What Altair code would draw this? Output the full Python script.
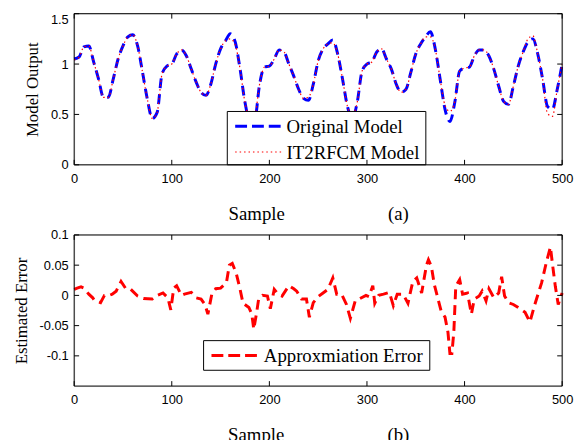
import altair as alt
import pandas as pd

# ---------------- data ----------------
samples = list(range(0, 501, 5))
original = [1.05, 1.07, 1.17, 1.18, 1.02, 0.85, 0.67, 0.67, 0.85, 1.05,
            1.18, 1.27, 1.29, 1.18, 0.92, 0.65, 0.46, 0.52, 0.90, 0.98,
            1.00, 1.10, 1.14, 1.08, 0.95, 0.82, 0.72, 0.69, 0.80, 1.00,
            1.15, 1.23, 1.30, 1.22, 0.95, 0.62, 0.44, 0.45, 0.80, 0.97,
            0.98, 1.05, 1.14, 1.12, 1.00, 0.88, 0.75, 0.66, 0.64, 0.80,
            1.03, 1.15, 1.20, 1.24, 1.10, 0.85, 0.58, 0.46, 0.62, 0.93,
            1.00, 1.02, 1.12, 1.15, 1.05, 0.95, 0.80, 0.72, 0.75, 0.92,
            1.10, 1.20, 1.27, 1.32, 1.15, 0.85, 0.55, 0.43, 0.62, 0.93,
            0.96, 0.97, 1.08, 1.14, 1.14, 1.08, 0.95, 0.78, 0.63, 0.60,
            0.78, 0.98, 1.12, 1.22, 1.25, 1.10, 0.85, 0.58, 0.55, 0.75,
            1.00]
it2rfcm = [1.04, 1.07, 1.17, 1.18, 1.02, 0.85, 0.67, 0.67, 0.85, 1.05,
           1.18, 1.27, 1.29, 1.18, 0.92, 0.65, 0.46, 0.52, 0.90, 0.98,
           1.00, 1.10, 1.14, 1.08, 0.95, 0.82, 0.72, 0.69, 0.80, 1.00,
           1.15, 1.23, 1.25, 1.19, 0.95, 0.62, 0.47, 0.49, 0.80, 0.97,
           0.98, 1.05, 1.14, 1.12, 1.00, 0.88, 0.75, 0.66, 0.67, 0.80,
           1.03, 1.15, 1.20, 1.21, 1.10, 0.85, 0.58, 0.49, 0.62, 0.93,
           1.00, 1.02, 1.12, 1.15, 1.05, 0.95, 0.80, 0.72, 0.75, 0.92,
           1.10, 1.20, 1.27, 1.27, 1.15, 0.85, 0.59, 0.53, 0.63, 0.93,
           0.96, 0.97, 1.08, 1.14, 1.14, 1.08, 0.95, 0.78, 0.63, 0.60,
           0.78, 0.98, 1.12, 1.25, 1.28, 1.10, 0.85, 0.51, 0.48, 0.75,
           1.00]

err_sample = [0, 3, 7, 10, 15, 19, 21, 27, 31, 36, 39, 43, 48, 53, 58, 65, 71, 80,
              85, 91, 96, 99, 102, 105, 110, 113, 120, 125, 130, 134, 137, 141, 145,
              150, 156, 159, 162, 166, 170, 173, 179, 182, 184, 187, 189, 193, 198,
              201, 205, 209, 213, 220, 225, 228, 233, 238, 241, 245, 250, 255, 260,
              265, 269, 274, 279, 283, 288, 292, 299, 302, 306, 308, 312, 317, 323,
              327, 331, 337, 342, 347, 351, 356, 361, 363, 366, 369, 376, 380, 383,
              385, 387, 389, 391, 395, 398, 403, 407, 410, 415, 418, 422, 425, 430,
              435, 438, 441, 445, 450, 455, 462, 467, 472, 479, 484, 488, 490, 493,
              496, 500]
err_value = [0.010, 0.012, 0.014, 0.012, 0.002, -0.004, -0.009, -0.012, 0.000, 0.000,
             0.002, 0.007, 0.023, 0.011, 0.010, -0.001, -0.005, -0.006,
             0.000, 0.004, -0.004, -0.024, 0.012, 0.016, 0.000, 0.002, 0.005, -0.004,
             -0.006, -0.015, -0.031, 0.002, 0.011,
             0.012, 0.021, 0.050, 0.053, 0.037, 0.010, -0.013, -0.020, -0.031, -0.056,
             -0.028, -0.006, 0.000, -0.001,
             -0.022, 0.010, 0.002, -0.001, 0.016, 0.011, 0.007, -0.006, -0.006, -0.036,
             -0.012, -0.002, 0.004, 0.010,
             0.029, 0.002, 0.002, -0.015, -0.038, -0.009, -0.006, 0.000, -0.002, 0.016,
             -0.013, 0.000, 0.002, 0.005,
             -0.017, 0.002, 0.002, -0.013, 0.023, 0.029, 0.004, 0.050, 0.059, 0.048,
             0.018, -0.026, -0.036, -0.061,
             -0.096, -0.096, -0.061, 0.015, 0.026, 0.002, 0.004, -0.031, -0.006, -0.001,
             0.007, -0.009, 0.011, -0.004,
             0.004, 0.031, -0.001, -0.012, -0.015, -0.020, -0.028, -0.044, -0.015, 0.021,
             0.056, 0.080, 0.053, 0.015,
             -0.015, 0.004]

x_ticks = [0, 100, 200, 300, 400, 500]
top_y_ticks = [0, 0.5, 1, 1.5]
bot_y_ticks = [-0.1, -0.05, 0, 0.05, 0.1]

# ---------------- style ----------------
W, H = 494, 153
SERIF = "Liberation Serif"
SANS = "Liberation Sans"
NB = "\u00a0"
LEGFS = 19

top_df = pd.DataFrame({"sample": samples, "original": original, "it2rfcm": it2rfcm})
err_df = pd.DataFrame({"sample": err_sample, "error": err_value})
one = pd.DataFrame({"k": [0]})

XS = alt.Scale(domain=[0, 500], nice=False)
TOP_BASELINE = {"condition": {"test": "datum.value == 1.5", "value": "top"}, "value": "middle"}


def x_axis(title):
    return alt.Axis(values=x_ticks, ticks=False, tickSize=0, domain=False, grid=False,
                    labelFont=SANS, labelFontSize=13, labelColor="black",
                    labelPadding=8, labelFlush=False,
                    title=title, titleFont=SERIF, titleFontSize=19,
                    titleFontWeight="normal", titleColor="black", titlePadding=19)


def y_axis(title, values, expr, baseline="middle"):
    return alt.Axis(values=values, ticks=False, tickSize=0, domain=False, grid=False,
                    labelFont=SANS, labelFontSize=13, labelColor="black", labelPadding=6,
                    labelFlush=False, labelExpr=expr, labelBaseline=baseline,
                    title=title, titleFont=SERIF, titleFontSize=17, titleFontWeight="normal",
                    titleColor="black", titlePadding=9)


def panel_extras(xtitle, ya, yvals, ydomain, yfield):
    xt = pd.DataFrame({"sample": x_ticks})
    yt = pd.DataFrame({yfield: yvals})
    ys = alt.Scale(domain=ydomain, nice=False)
    xa = x_axis(xtitle)
    layers = []
    for y0, y1 in [(H, H - 5), (0, 5)]:
        layers.append(alt.Chart(xt).mark_rule(color="black", strokeWidth=1).encode(
            x=alt.X("sample:Q", scale=XS, axis=xa), y=alt.value(y0), y2=alt.value(y1)))
    for x0, x1 in [(0, 5), (W, W - 5)]:
        layers.append(alt.Chart(yt).mark_rule(color="black", strokeWidth=1).encode(
            y=alt.Y(f"{yfield}:Q", scale=ys, axis=ya), x=alt.value(x0), x2=alt.value(x1)))
    layers.append(alt.Chart(one).mark_rect(fill=None, stroke="black", strokeWidth=1).encode(
        x=alt.value(0), x2=alt.value(W), y=alt.value(0), y2=alt.value(H)))
    return layers


# ---------------- top panel ----------------
top_title = "Sample" + NB * 22 + "(a)"
top_expr = "format(datum.value, '~g')"
top_ya = y_axis("Model Output", top_y_ticks, top_expr, TOP_BASELINE)
top_ys = alt.Scale(domain=[0, 1.5], nice=False)
blue = alt.Chart(top_df).mark_line(color="#0000FF", strokeWidth=3, strokeDash=[10, 6],
                                   interpolate="monotone").encode(
    x=alt.X("sample:Q", scale=XS, axis=x_axis(top_title)),
    y=alt.Y("original:Q", scale=top_ys, axis=top_ya))
red = alt.Chart(top_df).mark_line(color="#FF0000", strokeWidth=1.2, strokeDash=[1.5, 3],
                                  interpolate="monotone").encode(
    x=alt.X("sample:Q", scale=XS, axis=x_axis(top_title)),
    y=alt.Y("it2rfcm:Q", scale=top_ys, axis=top_ya))

leg_box = alt.Chart(one).mark_rect(fill="white", stroke="black", strokeWidth=1).encode(
    x=alt.value(155), x2=alt.value(356), y=alt.value(99), y2=alt.value(153))
leg_l1 = alt.Chart(one).mark_rule(color="#0000FF", strokeWidth=3, strokeDash=[12, 5]).encode(
    x=alt.value(163), x2=alt.value(211), y=alt.value(114))
leg_l2 = alt.Chart(one).mark_rule(color="#FF0000", strokeWidth=1.2, strokeDash=[1.5, 3]).encode(
    x=alt.value(163), x2=alt.value(211), y=alt.value(140))
leg_t1 = alt.Chart(one).mark_text(font=SERIF, fontSize=LEGFS, align="left", baseline="middle",
                                  color="black").encode(
    x=alt.value(215), y=alt.value(115), text=alt.value("Original Model"))
leg_t2 = alt.Chart(one).mark_text(font=SERIF, fontSize=LEGFS, align="left", baseline="middle",
                                  color="black").encode(
    x=alt.value(215), y=alt.value(141), text=alt.value("IT2RFCM Model"))

top = alt.layer(blue, red, leg_box, leg_l1, leg_l2, leg_t1, leg_t2,
                *panel_extras(top_title, top_ya, top_y_ticks, [0, 1.5],
                              "original")).properties(width=W, height=H)

# ---------------- bottom panel ----------------
bot_title = "Sample" + NB * 22 + "(b)"
bot_expr = "(datum.value < 0 ? '-' : '') + format(abs(datum.value), '~g')"
bot_ya = y_axis("Estimated Error", bot_y_ticks, bot_expr)
errline = alt.Chart(err_df).mark_line(color="#FF0000", strokeWidth=3, strokeDash=[10, 6]).encode(
    x=alt.X("sample:Q", scale=XS, axis=x_axis(bot_title)),
    y=alt.Y("error:Q", scale=alt.Scale(domain=[-0.15, 0.1], nice=False), axis=bot_ya))
bleg_box = alt.Chart(one).mark_rect(fill="white", stroke="black", strokeWidth=1).encode(
    x=alt.value(131), x2=alt.value(360), y=alt.value(107), y2=alt.value(137))
bleg_l = alt.Chart(one).mark_rule(color="#FF0000", strokeWidth=3, strokeDash=[12, 5]).encode(
    x=alt.value(139), x2=alt.value(187), y=alt.value(122))
bleg_t = alt.Chart(one).mark_text(font=SERIF, fontSize=LEGFS, align="left", baseline="middle",
                                  color="black").encode(
    x=alt.value(192), y=alt.value(123), text=alt.value("Approxmiation Error"))

bottom = alt.layer(errline, bleg_box, bleg_l, bleg_t,
                   *panel_extras(bot_title, bot_ya, bot_y_ticks, [-0.15, 0.1],
                                 "error")).properties(width=W, height=H)

chart = alt.vconcat(top, bottom, spacing=71, bounds="flush").properties(
    padding={"left": 3, "top": 2, "right": 0, "bottom": 5}
).configure_view(stroke=None).configure(background="white")

chart.save("out.html", embed_options={"renderer": "svg", "actions": False})
